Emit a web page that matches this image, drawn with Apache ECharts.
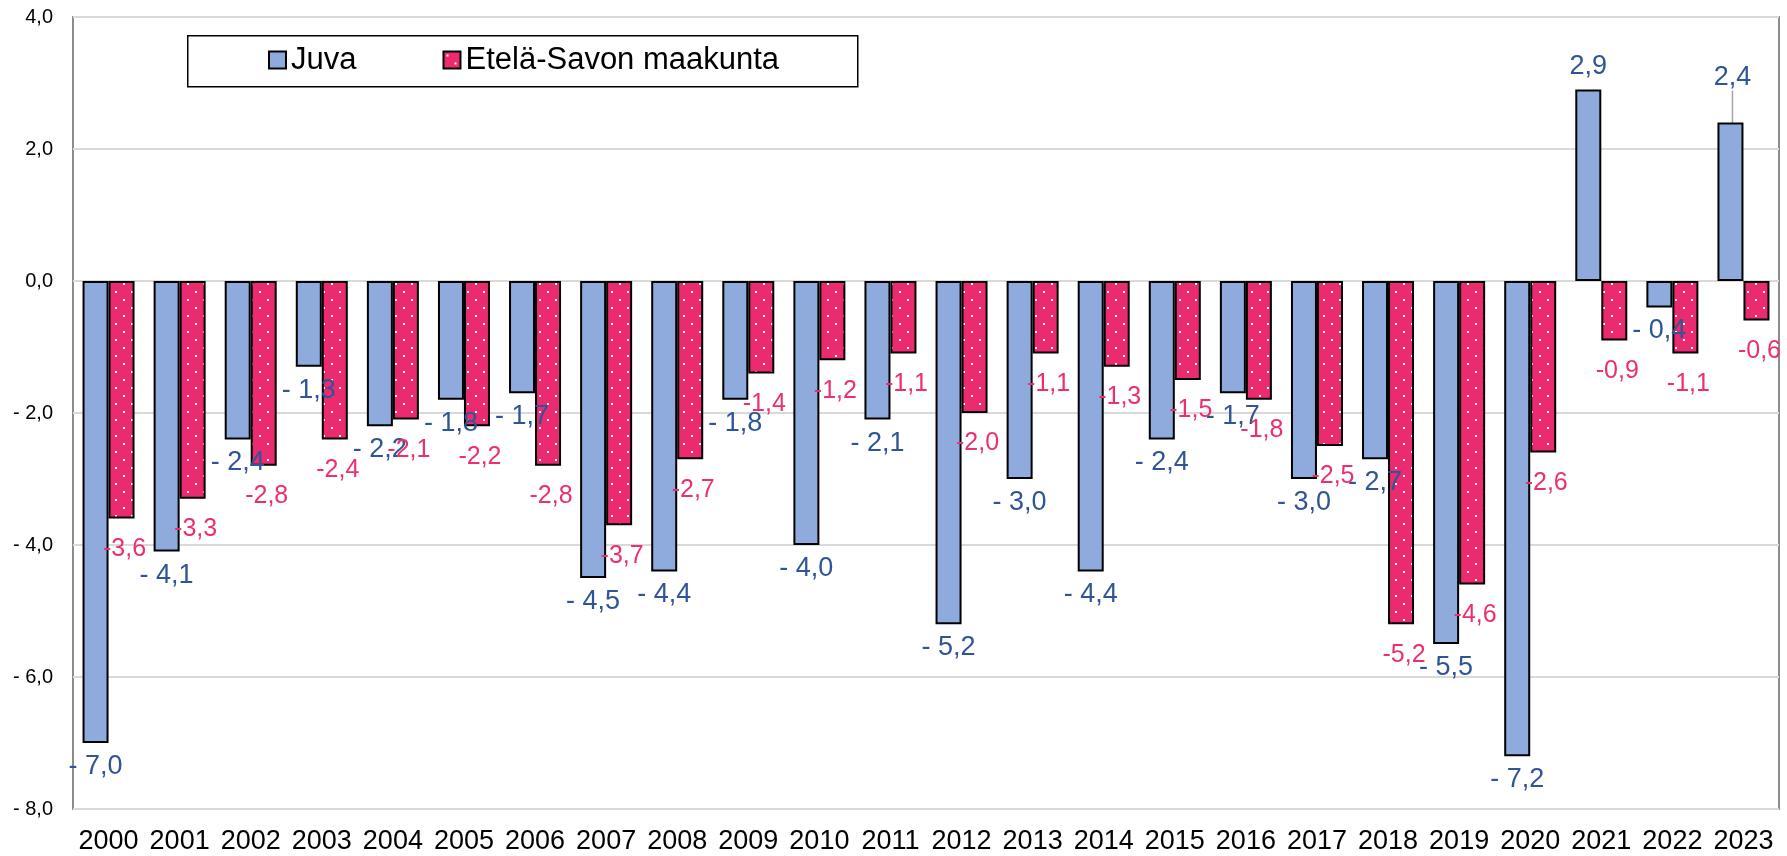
<!DOCTYPE html>
<html><head><meta charset="utf-8">
<script src="https://cdn.jsdelivr.net/npm/echarts@6/dist/echarts.min.js"></script>
<style>html,body{margin:0;padding:0;background:#fff}#c{width:1787px;height:856px}</style>
</head><body><div id="c"></div>
<script>
// ---- data ----
const years = ['2000','2001','2002','2003','2004','2005','2006','2007','2008','2009','2010','2011','2012','2013','2014','2015','2016','2017','2018','2019','2020','2021','2022','2023'];
const juva = [-7.0,-4.1,-2.4,-1.3,-2.2,-1.8,-1.7,-4.5,-4.4,-1.8,-4.0,-2.1,-5.2,-3.0,-4.4,-2.4,-1.7,-3.0,-2.7,-5.5,-7.2,2.9,-0.4,2.4];
const etelaSavo = [-3.6,-3.3,-2.8,-2.4,-2.1,-2.2,-2.8,-3.7,-2.7,-1.4,-1.2,-1.1,-2.0,-1.1,-1.3,-1.5,-1.8,-2.5,-5.2,-4.6,-2.6,-0.9,-1.1,-0.6];
const seriesNames = ['Juva', 'Etelä-Savon maakunta'];
const yMin = -8, yMax = 4, yStep = 2;

// ---- styles ----
const FONT = '"Liberation Sans", Arial, sans-serif';
const blue = '#8FAADC', pink = '#EC2A6F';
const blueText = '#2F5597', pinkText = '#EC2F6E';
const movedLabelIndex = 23; // 2023 Juva label was dragged up with a leader line

function dotPattern() {
  const c = document.createElement('canvas');
  c.width = 16; c.height = 16;
  const g = c.getContext('2d');
  g.fillStyle = pink; g.fillRect(0, 0, 16, 16);
  g.fillStyle = '#ffffff';
  g.fillRect(3, 3, 2, 2);
  g.fillRect(11, 11, 2, 2);
  return c;
}
const fmt = v => Math.abs(v).toFixed(1).replace('.', ',');
const fmtSpaced = v => (v < 0 ? '- ' : '') + fmt(v);
const fmtTight = v => (v < 0 ? '-' : '') + fmt(v);

const juvaData = juva.map((v, i) => i === movedLabelIndex
  ? {value: v, labelLine: {show: true, lineStyle: {color: '#A6A6A6', width: 1.5}}}
  : v);

const chart = echarts.init(document.getElementById('c'), null, {renderer: 'canvas'});
chart.setOption({
  animation: false,
  backgroundColor: '#fff',
  textStyle: {fontFamily: FONT},
  grid: {left: 73, right: 8, top: 17, bottom: 47, show: true, borderColor: '#8C8C8C', borderWidth: 2, containLabel: false},
  graphic: [{
    type: 'rect', left: 187, top: 35, z: 0,
    shape: {width: 670, height: 51},
    style: {fill: '#fff', stroke: '#000', lineWidth: 1.5}
  }],
  legend: {
    left: 268, top: 43, padding: 0, itemGap: 86,
    itemWidth: 17, itemHeight: 17, z: 10,
    icon: 'rect',
    textStyle: {fontFamily: FONT, fontSize: 31, color: '#000', lineHeight: 34},
    data: seriesNames
  },
  xAxis: {
    type: 'category', data: years,
    axisLine: {show: false}, axisTick: {show: false},
    axisLabel: {interval: 0, fontFamily: FONT, fontSize: 27, color: '#000', margin: 19}
  },
  yAxis: {
    type: 'value', min: yMin, max: yMax, interval: yStep,
    axisLine: {show: false}, axisTick: {show: false},
    splitLine: {lineStyle: {color: '#D9D9D9', width: 2}},
    axisLabel: {fontFamily: FONT, fontSize: 20, color: '#000', margin: 20, formatter: v => fmtSpaced(v)}
  },
  series: [{
    name: seriesNames[0], type: 'bar', data: juvaData,
    barWidth: 26, barGap: '0%',
    itemStyle: {color: blue, borderColor: '#000', borderWidth: 2},
    label: {show: true, position: 'outside', distance: 10, offset: [-4, 0],
      fontFamily: FONT, fontSize: 27, color: blueText,
      formatter: p => fmtSpaced(p.value)},
    labelLayout: p => p.dataIndex === movedLabelIndex ? {dx: 2, dy: -22} : {}
  }, {
    name: seriesNames[1], type: 'bar', data: etelaSavo,
    barWidth: 26, barGap: '0%',
    itemStyle: {color: {image: dotPattern(), repeat: 'repeat'}, borderColor: '#000', borderWidth: 2},
    label: {show: true, position: 'outside', distance: 18, offset: [3, 0],
      fontFamily: FONT, fontSize: 25, color: pinkText,
      formatter: p => fmtTight(p.value)}
  }]
});
</script></body></html>
